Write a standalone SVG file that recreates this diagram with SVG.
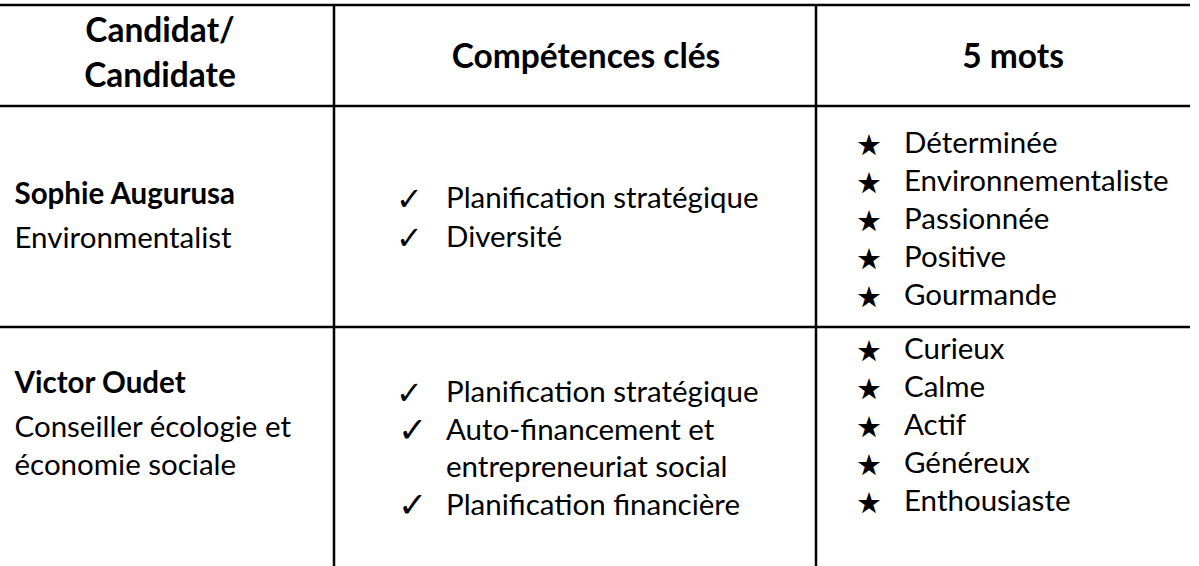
<svg xmlns="http://www.w3.org/2000/svg" width="1199" height="566" viewBox="0 0 1199 566">
<style>
.t{font-family:Lato,"Liberation Sans",sans-serif;font-size:29.5px;fill:#000}
.b{font-weight:bold}
.h{font-family:Lato,"Liberation Sans",sans-serif;font-size:33.5px;font-weight:bold;fill:#000;text-anchor:middle}
.ck{font-family:"DejaVu Sans",sans-serif;font-size:32px;fill:#000}
.ck2{font-family:"DejaVu Sans",sans-serif;font-size:35px;fill:#000}
.st{font-family:"DejaVu Sans",sans-serif;font-size:29px;fill:#000}
.ln{stroke:#000;stroke-width:2.5;fill:none}
</style>
<rect width="1199" height="566" fill="#fff"/>
<g id="connectors">
<line class="ln" x1="0" y1="5" x2="1190" y2="5"/>
<line class="ln" x1="0" y1="106" x2="1190" y2="106"/>
<line class="ln" x1="0" y1="327" x2="1190" y2="327"/>
<line class="ln" x1="334" y1="5" x2="334" y2="566"/>
<line class="ln" x1="816" y1="5" x2="816" y2="566"/>
</g>
<g id="header-candidat">
<text class="h" x="160" y="42">Candidat/</text>
<text class="h" x="160" y="87">Candidate</text>
</g>
<g id="header-competences">
<text class="h" x="586" y="68">Compétences clés</text>
</g>
<g id="header-mots">
<text class="h" x="1013" y="68">5 mots</text>
</g>
<g id="sophie-candidat">
<text class="t b" x="14.5" y="204">Sophie Augurusa</text>
<text class="t" x="14.5" y="248">Environmentalist</text>
</g>
<g id="sophie-competences">
<text class="ck" x="396" y="210">✓</text>
<text class="t" x="446" y="208">Planification stratégique</text>
<text class="ck" x="396" y="249">✓</text>
<text class="t" x="446" y="247">Diversité</text>
</g>
<g id="sophie-mots">
<text class="st" x="856" y="155">★</text><text class="t" x="904" y="153">Déterminée</text>
<text class="st" x="856" y="193">★</text><text class="t" x="904" y="191">Environnementaliste</text>
<text class="st" x="856" y="231">★</text><text class="t" x="904" y="229">Passionnée</text>
<text class="st" x="856" y="269">★</text><text class="t" x="904" y="267">Positive</text>
<text class="st" x="856" y="307">★</text><text class="t" x="904" y="305">Gourmande</text>
</g>
<g id="victor-candidat">
<text class="t b" x="14.5" y="393">Victor Oudet</text>
<text class="t" x="14.5" y="437">Conseiller écologie et</text>
<text class="t" x="14.5" y="475">économie sociale</text>
</g>
<g id="victor-competences">
<text class="ck" x="396" y="404">✓</text>
<text class="t" x="446" y="402">Planification stratégique</text>
<text class="ck2" x="398" y="442">✓</text>
<text class="t" x="446" y="440">Auto-financement et</text>
<text class="t" x="446" y="477">entrepreneuriat social</text>
<text class="ck2" x="398" y="517">✓</text>
<text class="t" x="446" y="515">Planification financière</text>
</g>
<g id="victor-mots">
<text class="st" x="856" y="361">★</text><text class="t" x="904" y="359">Curieux</text>
<text class="st" x="856" y="399">★</text><text class="t" x="904" y="397">Calme</text>
<text class="st" x="856" y="437">★</text><text class="t" x="904" y="435">Actif</text>
<text class="st" x="856" y="475">★</text><text class="t" x="904" y="473">Généreux</text>
<text class="st" x="856" y="513">★</text><text class="t" x="904" y="511">Enthousiaste</text>
</g>
</svg>
